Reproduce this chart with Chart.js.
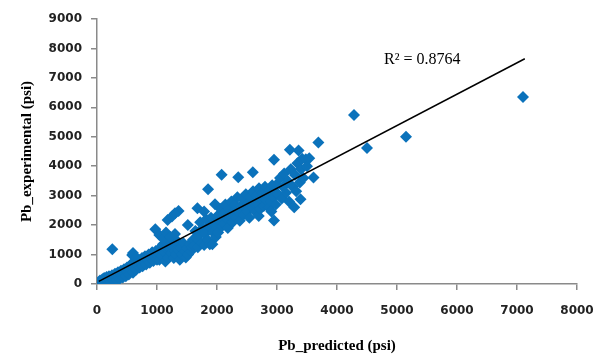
<!DOCTYPE html>
<html>
<head>
<meta charset="utf-8">
<script src="https://cdn.jsdelivr.net/npm/chart.js@4/dist/chart.umd.min.js"></script>
<style>
  body { margin: 0; background: #fff; }
  #wrap { width: 608px; height: 358px; }
</style>
</head>
<body>
<div id="wrap"><canvas id="scatterChart" width="608" height="358"></canvas></div>
<script>
// measured points: [Pb_predicted, Pb_experimental] in psi
var measured = [
  [20,60],[40,30],[50,120],[60,80],[80,20],[90,160],[100,90],[120,200],[130,60],[150,120],
  [160,240],[180,100],[200,260],[210,150],[230,60],[250,300],[260,180],[280,120],[300,350],[310,220],
  [330,140],[350,400],[360,250],[380,180],[400,450],[410,300],[430,220],[450,500],[460,360],[480,260],
  [500,560],[510,400],[530,320],[550,620],[255,1180],
  [560,460],[580,700],[600,380],[620,560],[640,760],[650,480],[670,640],[700,820],[710,560],[730,700],
  [750,880],[760,600],[780,760],[800,940],[820,660],[840,820],[860,1000],[880,720],[900,860],[920,1080],
  [940,780],[960,920],[980,1120],[1000,820],[1000,960],[586,986],[600,1050],[650,900],
  [1020,1050],[1040,820],[1060,1250],[1080,950],[1100,1350],[1120,1100],[1140,760],[1150,1200],
  [1170,1420],[1190,900],[1200,1250],[1220,1480],[1240,1050],[1260,1300],[1280,880],[1300,1150],
  [1320,1000],[1340,1450],[1360,1150],[1380,820],[1400,1250],[1420,1000],[1440,1380],[1460,1100],
  [1480,900],[1500,1200],[1520,1000],[1540,1350],[1560,1100],[1580,1250],
  [972,1860],[1039,1667],[1177,2177],[1249,2290],[1359,2483],[1300,2400],[1100,1550],[1150,1750],
  [1220,1600],[1300,1700],[1514,2007],[1674,2574],[1785,2460],[1851,3220],[1967,2710],
  [1600,1500],[1620,1300],[1640,1800],[1660,1550],[1680,1250],[1700,1650],[1720,2100],[1740,1400],
  [1760,1900],[1785,1327],[1800,1700],[1820,2200],[1840,1500],[1860,1950],[1880,1350],[1900,2250],
  [1923,1349],[1940,1750],[1960,2050],[1980,1600],[2000,2300],[2000,1900],
  [2020,1750],[2040,2150],[2060,2550],[2077,3707],[2080,1950],[2100,2400],[2120,2050],[2140,2700],
  [2160,2250],[2180,1900],[2200,2550],[2220,2300],[2240,2800],[2260,2100],[2280,2500],[2300,2700],
  [2320,2250],[2340,2950],[2354,3628],[2360,2450],[2380,2150],[2400,2650],[2420,2900],[2440,2350],
  [2460,2600],[2480,3050],[2500,2450],[2520,2750],[2540,2250],[2560,2950],[2580,2600],[2597,3798],
  [2600,3150],[2620,2750],[2640,2450],[2660,3000],[2680,2700],[2696,2313],[2700,3250],[2720,2550],
  [2740,2900],[2760,3100],[2780,2650],[2800,3300],[2820,2850],[2840,3050],[2860,2600],[2880,3200],
  [2900,2800],[2906,2460],[2920,3350],[2940,2950],[2950,4218],[2950,2154],[2960,3150],[2980,2700],
  [3000,3400],
  [3020,3050],[3050,3600],[3080,2900],[3100,3300],[3120,3750],[3150,3100],[3180,3500],[3200,2800],
  [3215,4558],[3230,3900],[3260,3300],[3287,2608],[3300,3700],[3320,3150],[3340,4100],[3359,4535],
  [3380,3450],[3392,2880],[3400,3900],[3420,4250],[3440,3600],[3480,4240],[3500,4000],[3538,4268],
  [3608,3617],[3690,4807],
  [4283,5740],[4500,4620],[5150,5000],[7100,6350]
];

// trend line end points
var trendLine = [[30,90],[7130,7650]];
var rSquaredText = 'R² = 0.8764';
var rSquaredPos = [5420, 7610];

var xTicks = { min: 0, max: 8000, step: 1000 };
var yTicks = { min: 0, max: 9000, step: 1000 };

function toPoints(arr) {
  return arr.map(function (p) { return { x: p[0], y: p[1] }; });
}

var labelPlugin = {
  id: 'rSquared',
  afterDatasetsDraw: function (chart) {
    var ctx = chart.ctx;
    var px = chart.scales.x.getPixelForValue(rSquaredPos[0]);
    var py = chart.scales.y.getPixelForValue(rSquaredPos[1]);
    ctx.save();
    ctx.font = '16px "Liberation Serif", "Times New Roman", serif';
    ctx.fillStyle = '#000';
    ctx.textAlign = 'center';
    ctx.textBaseline = 'middle';
    ctx.fillText(rSquaredText, px, py);
    ctx.restore();
  }
};

var tickFont = { family: '"DejaVu Sans", Verdana, sans-serif', size: 12, weight: 'bold' };
var titleFont = { family: '"Liberation Serif", "Times New Roman", serif', size: 15, weight: 'bold' };
var axisGray = '#8a8a8a';
function plainTick(v) { return String(v); }

new Chart(document.getElementById('scatterChart'), {
  type: 'scatter',
  data: {
    datasets: [{
      type: 'line',
      data: toPoints(trendLine),
      borderColor: '#000',
      borderWidth: 1.5,
      pointRadius: 0,
      fill: false,
      showLine: true,
      order: 0
    }, {
      data: toPoints(measured),
      pointStyle: 'rectRot',
      pointRadius: 6,
      backgroundColor: '#0b72bb',
      borderColor: '#0b72bb',
      borderWidth: 0,
      order: 1
    }]
  },
  options: {
    responsive: false,
    animation: false,
    layout: { padding: { top: 19, right: 31, left: 0, bottom: 0 } },
    plugins: { legend: { display: false }, tooltip: { enabled: false } },
    scales: {
      x: {
        type: 'linear',
        min: xTicks.min,
        max: xTicks.max,
        ticks: { stepSize: xTicks.step, font: tickFont, color: '#222', padding: 14, maxRotation: 0, callback: plainTick },
        grid: { display: true, drawOnChartArea: false, drawTicks: true, tickLength: 6, color: axisGray, lineWidth: 1.5 },
        border: { color: axisGray, width: 1.5 },
        title: { display: true, text: 'Pb_predicted (psi)', font: titleFont, color: '#000', padding: { top: 0, bottom: 3 } },
        afterFit: function (axis) { axis.height = 74; }
      },
      y: {
        type: 'linear',
        min: yTicks.min,
        max: yTicks.max,
        ticks: { stepSize: yTicks.step, font: tickFont, color: '#222', padding: 9, callback: plainTick },
        grid: { display: true, drawOnChartArea: false, drawTicks: true, tickLength: 6, color: axisGray, lineWidth: 1.5 },
        border: { color: axisGray, width: 1.5 },
        title: { display: true, text: 'Pb_experimental (psi)', font: titleFont, color: '#000', padding: { top: 18, bottom: 0 } },
        afterFit: function (axis) { axis.width = 97; }
      }
    }
  },
  plugins: [labelPlugin]
});
</script>
</body>
</html>
